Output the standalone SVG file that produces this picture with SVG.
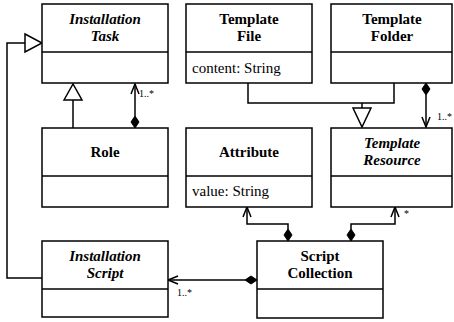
<svg xmlns="http://www.w3.org/2000/svg" width="454" height="322" viewBox="0 0 454 322">
  <style>
    .box { fill: #fff; stroke: #000; stroke-width: 1.5; }
    .div { stroke: #000; stroke-width: 1.5; }
    text { font-family: 'Liberation Serif', 'Times New Roman', 'DejaVu Serif', serif; fill: #000; }
    .title { font-size: 15px; font-weight: bold; text-anchor: middle; }
    .abstract { font-style: italic; }
    .attr { font-size: 15px; }
    .mult { font-size: 10px; }
    .line { fill: none; stroke: #000; stroke-width: 1.5; }
    .hollow { fill: #fff; stroke: #000; stroke-width: 1.5; }
    .diamond { fill: #000; stroke: #000; stroke-width: 1; }
  </style>

  <rect width="454" height="322" fill="#fff"/>

  <!-- connectors -->
  <g id="connectors">
    <!-- Installation Script generalizes Installation Task -->
    <polyline class="line" points="42,278 7,278 7,43 25,43"/>
    <polygon class="hollow" points="25,34 42,43 25,52"/>

    <!-- Role generalizes Installation Task -->
    <line class="line" x1="73" y1="128" x2="73" y2="100"/>
    <polygon class="hollow" points="64,100 73,84 82,100"/>

    <!-- Role composed into Installation Task -->
    <line class="line" x1="135" y1="116" x2="135" y2="84"/>
    <polyline class="line" points="131,94 135,84 139,94"/>
    <polygon class="diamond" points="135,116 139,122 135,128 131,122"/>
    <text class="mult" x="139" y="97">1..*</text>

    <!-- Template File / Template Folder generalize Template Resource -->
    <polyline class="line" points="248,83 248,103 394,103 394,83"/>
    <line class="line" x1="362" y1="103" x2="362" y2="108"/>
    <polygon class="hollow" points="353,108 371,108 362,127"/>

    <!-- Template Folder contains Template Resource -->
    <line class="line" x1="426" y1="95" x2="426" y2="127"/>
    <polyline class="line" points="422,117 426,127 430,117"/>
    <polygon class="diamond" points="426,83 430,89 426,95 422,89"/>
    <text class="mult" x="437" y="120">1..*</text>

    <!-- Script Collection contains Attribute -->
    <polyline class="line" points="288,229 288,224 247,224 247,207"/>
    <polyline class="line" points="243,217 247,207 251,217"/>
    <polygon class="diamond" points="288,229 292,235 288,241 284,235"/>

    <!-- Script Collection contains Template Resource -->
    <polyline class="line" points="351,229 351,224 395,224 395,207"/>
    <polyline class="line" points="391,217 395,207 399,217"/>
    <polygon class="diamond" points="351,229 355,235 351,241 347,235"/>
    <text class="mult" x="404" y="217">*</text>

    <!-- Script Collection contains Installation Script -->
    <line class="line" x1="245" y1="280" x2="168" y2="280"/>
    <polyline class="line" points="178,276 168,280 178,284"/>
    <polygon class="diamond" points="257,280 251,284 245,280 251,276"/>
    <text class="mult" x="177" y="296">1..*</text>
  </g>

  <g id="installation-task">
    <rect class="box" x="42" y="4" width="126" height="79"/>
    <line class="div" x1="42" y1="52" x2="168" y2="52"/>
    <text class="title abstract" x="105" y="24">Installation</text>
    <text class="title abstract" x="105" y="41">Task</text>
  </g>

  <g id="template-file">
    <rect class="box" x="186" y="4" width="126" height="79"/>
    <line class="div" x1="186" y1="52" x2="312" y2="52"/>
    <text class="title" x="249" y="24">Template</text>
    <text class="title" x="249" y="41">File</text>
    <text class="attr" x="192" y="73">content: String</text>
  </g>

  <g id="template-folder">
    <rect class="box" x="331" y="4" width="121" height="79"/>
    <line class="div" x1="331" y1="52" x2="452" y2="52"/>
    <text class="title" x="392" y="24">Template</text>
    <text class="title" x="392" y="41">Folder</text>
  </g>

  <g id="role">
    <rect class="box" x="42" y="128" width="126" height="79"/>
    <line class="div" x1="42" y1="176" x2="168" y2="176"/>
    <text class="title" x="105" y="157">Role</text>
  </g>

  <g id="attribute">
    <rect class="box" x="186" y="128" width="126" height="79"/>
    <line class="div" x1="186" y1="176" x2="312" y2="176"/>
    <text class="title" x="249" y="157">Attribute</text>
    <text class="attr" x="192" y="196">value: String</text>
  </g>

  <g id="template-resource">
    <rect class="box" x="331" y="128" width="121" height="79"/>
    <line class="div" x1="331" y1="176" x2="452" y2="176"/>
    <text class="title abstract" x="392" y="148">Template</text>
    <text class="title abstract" x="392" y="165">Resource</text>
  </g>

  <g id="installation-script">
    <rect class="box" x="42" y="241" width="126" height="76"/>
    <line class="div" x1="42" y1="289" x2="168" y2="289"/>
    <text class="title abstract" x="105" y="261">Installation</text>
    <text class="title abstract" x="105" y="278">Script</text>
  </g>

  <g id="script-collection">
    <rect class="box" x="257" y="241" width="126" height="77"/>
    <line class="div" x1="257" y1="289" x2="383" y2="289"/>
    <text class="title" x="320" y="261">Script</text>
    <text class="title" x="320" y="278">Collection</text>
  </g>
</svg>
